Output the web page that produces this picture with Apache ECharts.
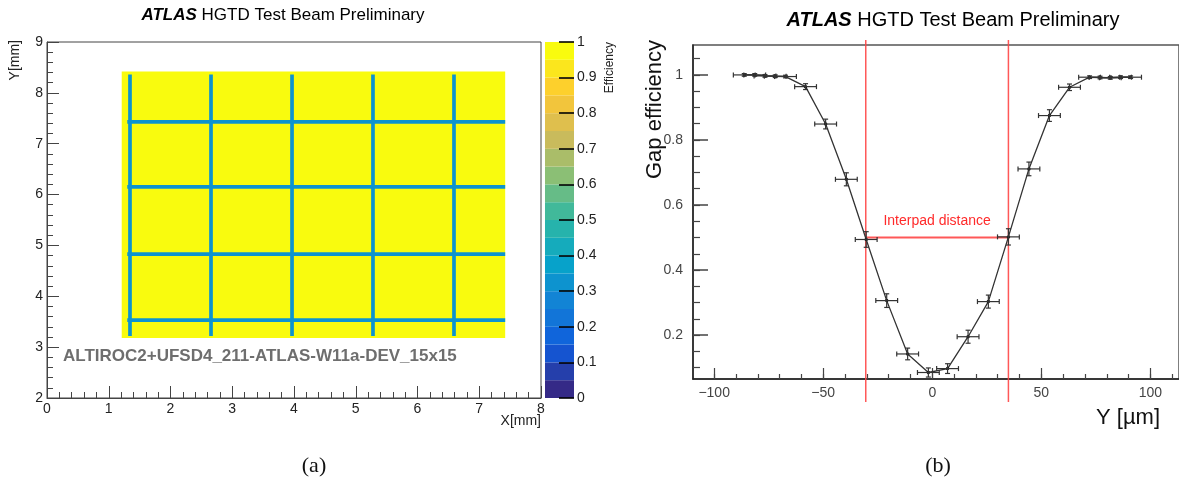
<!DOCTYPE html>
<html><head><meta charset="utf-8">
<script src="https://cdn.jsdelivr.net/npm/echarts@6/dist/echarts.min.js"></script>
<style>html,body{margin:0;padding:0;background:#fff}#c{width:1179px;height:487px}</style>
</head><body><div id="c"></div>
<script>
// ---------- Panel (a): efficiency map ----------
const sensorX = [1.21, 7.42];
const sensorY = [3.18, 8.42];
const padEfficiency = 0.99;
const gapEfficiency = 0.32;
const gapX = [1.344, 2.656, 3.968, 5.279, 6.591];
const gapXSpanY = [3.22, 8.36];
const gapY = [3.53, 4.83, 6.15, 7.43];
const gapYSpanX = [1.30, 7.42];
const colorLevels = [0,0.05,0.1,0.15,0.2,0.25,0.3,0.35,0.4,0.45,0.5,0.55,0.6,0.65,0.7,0.75,0.8,0.85,0.9,0.95,1];
const colorbarTicks = [0,0.1,0.2,0.3,0.4,0.5,0.6,0.7,0.8,0.9,1];
const mapXTicks = [0,1,2,3,4,5,6,7,8];
const mapYTicks = [2,3,4,5,6,7,8,9];

// ---------- Panel (b): gap efficiency ----------
const posY   = [-86.2,-81.4,-76.7,-72.0,-67.3,-58.1,-48.9,-39.4,-30.3,-20.9,-11.3,-1.8,7.0,16.4,25.7,34.9,44.3,53.7,62.9,72.1,76.9,81.6,86.3,90.9];
const gapEff = [1.0,1.0,0.997,0.996,0.995,0.964,0.849,0.679,0.494,0.306,0.142,0.085,0.097,0.195,0.303,0.502,0.711,0.875,0.962,0.993,0.992,0.991,0.993,0.993];
const posErr = [5,5,5,5,5,5,5,5,5,5,5,5,5,5,5,5,5,5,5,5,5,5,5,5];
const effErr = [0.004,0.004,0.004,0.004,0.004,0.009,0.015,0.02,0.024,0.021,0.018,0.014,0.015,0.02,0.02,0.025,0.021,0.018,0.01,0.004,0.004,0.004,0.004,0.004];
const interpadEdges = [-30.5, 34.9];
const interpadLevel = 0.5;
const xTicksMajor = [-100,-50,0,50,100];
const xTicksMinor = [-100,-90,-80,-70,-60,-50,-40,-30,-20,-10,0,10,20,30,40,50,60,70,80,90,100,110];
const yTicksMajor = [0.2,0.4,0.6,0.8,1.0];
const yTicksMinor = [0.1,0.15,0.2,0.25,0.3,0.35,0.4,0.45,0.5,0.55,0.6,0.65,0.7,0.75,0.8,0.85,0.9,0.95,1.0,1.05];

// ---------- palette (ROOT kBird) ----------
const birdStops=[0,.125,.25,.375,.5,.625,.75,.875,1];
const birdR=[.2082,.0592,.0780,.0232,.1802,.5301,.8186,.9956,.9764];
const birdG=[.1664,.3599,.5041,.6419,.7178,.7492,.7328,.7862,.9832];
const birdB=[.5293,.8684,.8385,.7914,.6425,.4662,.3499,.1968,.0539];
function bird(t){
  let i=0; while(i<birdStops.length-2 && t>birdStops[i+1]) i++;
  const f=(t-birdStops[i])/(birdStops[i+1]-birdStops[i]);
  const c=a=>Math.round(255*(a[i]+(a[i+1]-a[i])*f));
  return 'rgb('+c(birdR)+','+c(birdG)+','+c(birdB)+')';
}
const nBands = colorLevels.length-1;
const palette = colorLevels.slice(0,-1).map((_,i)=>bird(i/(nBands-1)));
function colorFor(v){ return palette[Math.max(0,Math.min(nBands-1,Math.floor(v*nBands)))]; }

// rectangles for the map
const gapHalfX = 0.03, gapHalfY = 0.036;
const mapRects = [[sensorX[0],sensorX[1],sensorY[0],sensorY[1],padEfficiency]]
  .concat(gapX.map(g=>[g-gapHalfX,g+gapHalfX,gapXSpanY[0],gapXSpanY[1],gapEfficiency]))
  .concat(gapY.map(g=>[gapYSpanX[0],gapYSpanX[1],g-gapHalfY,g+gapHalfY,gapEfficiency]));
const bandRects = colorLevels.slice(0,-1).map((lo,i)=>[lo,colorLevels[i+1]]);

const FONT='"Liberation Sans", Arial, Helvetica, sans-serif';
const chart = echarts.init(document.getElementById('c'), null, {renderer:'canvas'});

function fmtEff(v){ return Math.abs(v-1)<1e-9 ? '1' : (Math.abs(v)<1e-9?'0':v.toFixed(1)); }

const option = {
  animation:false,
  backgroundColor:'#fff',
  grid:[
    {left:47, top:42, width:494, height:356, show:true, borderColor:'#444', borderWidth:1, containLabel:false},
    {left:545, top:42, width:29, height:356, show:false},
    {left:693, top:45, right:-2, height:334, show:true, borderColor:'#555', borderWidth:1.5}
  ],
  xAxis:[
    {gridIndex:0, type:'value', min:0, max:8, interval:1,
     axisLine:{onZero:false,lineStyle:{color:'#444',width:1}},
     axisTick:{inside:true,length:12,lineStyle:{color:'#444'}},
     minorTick:{show:true,splitNumber:5,length:6,lineStyle:{color:'#444'}},
     splitLine:{show:false},
     axisLabel:{color:'#222',fontSize:14,fontFamily:FONT,margin:4}},
    {gridIndex:1, type:'value', min:0, max:1, show:false, axisLine:{onZero:false}},
    {gridIndex:2, type:'value', min:-109.7, max:113.1, position:'bottom',
     axisLine:{onZero:false,lineStyle:{color:'#222',width:1.5}},
     axisTick:{inside:true,length:5,customValues:xTicksMinor,lineStyle:{color:'#444',width:1.2}},
     splitLine:{show:false},
     axisLabel:{customValues:xTicksMajor,color:'#444',fontSize:14,fontFamily:FONT,margin:7,
       formatter:v=>(v<0?'\u2212'+Math.abs(v):String(v))}},
    {gridIndex:2, type:'value', min:-109.7, max:113.1, position:'bottom',
     axisLine:{show:false,onZero:false},
     axisTick:{inside:true,length:11,customValues:xTicksMajor,lineStyle:{color:'#444',width:1.2}},
     splitLine:{show:false}, axisLabel:{show:false}}
  ],
  yAxis:[
    {gridIndex:0, type:'value', min:2, max:9, interval:1,
     axisLine:{onZero:false,lineStyle:{color:'#444',width:1}},
     axisTick:{inside:true,length:12,lineStyle:{color:'#444'}},
     minorTick:{show:true,splitNumber:5,length:6,lineStyle:{color:'#444'}},
     splitLine:{show:false},
     axisLabel:{color:'#222',fontSize:14,fontFamily:FONT,margin:4}},
    {gridIndex:1, type:'value', min:0, max:1, interval:0.1, position:'right', z:10,
     axisLine:{show:false,onZero:false},
     axisTick:{inside:true,length:15,lineStyle:{color:'#000',width:1.6}},
     splitLine:{show:false},
     axisLabel:{color:'#222',fontSize:14,fontFamily:FONT,margin:3,formatter:fmtEff}},
    {gridIndex:2, type:'value', min:0.065, max:1.092, position:'left',
     axisLine:{onZero:false,lineStyle:{color:'#222',width:1.5}},
     axisTick:{inside:true,length:7,customValues:yTicksMinor,lineStyle:{color:'#444',width:1.2}},
     splitLine:{show:false},
     axisLabel:{customValues:yTicksMajor,color:'#444',fontSize:14,fontFamily:FONT,margin:10,formatter:fmtEff}},
    {gridIndex:2, type:'value', min:0.065, max:1.092, position:'left',
     axisLine:{show:false,onZero:false},
     axisTick:{inside:true,length:15,customValues:yTicksMajor,lineStyle:{color:'#444',width:1.5}},
     splitLine:{show:false}, axisLabel:{show:false}}
  ],
  series:[
    {type:'custom', name:'map', xAxisIndex:0, yAxisIndex:0, data:mapRects, silent:true,
     renderItem:(p,api)=>{
       const a=api.coord([api.value(0),api.value(3)]), b=api.coord([api.value(1),api.value(2)]);
       return {type:'rect', shape:{x:a[0],y:a[1],width:b[0]-a[0],height:b[1]-a[1]},
               style:{fill:colorFor(api.value(4))}};
     }},
    {type:'custom', name:'colorbar', xAxisIndex:1, yAxisIndex:1, data:bandRects, silent:true, z:1,
     renderItem:(p,api)=>{
       const a=api.coord([0,api.value(1)]), b=api.coord([1,api.value(0)]);
       return {type:'rect', shape:{x:a[0],y:a[1],width:b[0]-a[0],height:b[1]-a[1]},
               style:{fill:colorFor((api.value(0)+api.value(1))/2)}};
     }},
    {type:'custom', name:'interpad', xAxisIndex:2, yAxisIndex:2, clip:false, silent:true,
     data:interpadEdges.map(x=>[x]),
     renderItem:(p,api)=>{
       const cs=p.coordSys; const q=api.coord([api.value(0),interpadLevel]);
       return {type:'line', shape:{x1:q[0],y1:cs.y-5,x2:q[0],y2:cs.y+cs.height+23},
               style:{stroke:'rgba(255,70,70,0.9)',lineWidth:1.5}};
     }},
    {type:'custom', name:'interpadSpan', xAxisIndex:2, yAxisIndex:2, clip:false, silent:true,
     data:[[interpadEdges[0],interpadEdges[1],interpadLevel]],
     renderItem:(p,api)=>{
       const a=api.coord([api.value(0),api.value(2)]), b=api.coord([api.value(1),api.value(2)]);
       return {type:'group',children:[
         {type:'line',shape:{x1:a[0],y1:a[1],x2:b[0],y2:b[1]},style:{stroke:'rgba(255,70,70,0.9)',lineWidth:2}},
         {type:'text',x:(a[0]+b[0])/2,y:a[1]-16,style:{text:'Interpad distance',fill:'#ff2a2a',
           font:'14px '+FONT,align:'center',verticalAlign:'middle'}}
       ]};
     }},
    {type:'line', name:'gap', xAxisIndex:2, yAxisIndex:2, data:posY.map((x,i)=>[x,gapEff[i]]),
     symbol:'circle', symbolSize:3.5, itemStyle:{color:'#111'},
     lineStyle:{color:'#333',width:1.3}, z:3},
    {type:'custom', name:'errors', xAxisIndex:2, yAxisIndex:2, silent:true, z:4,
     data:posY.map((x,i)=>[x,gapEff[i],posErr[i],effErr[i]]),
     renderItem:(p,api)=>{
       const x=api.value(0),y=api.value(1),ex=api.value(2),ey=api.value(3);
       const l=api.coord([x-ex,y]), r=api.coord([x+ex,y]), t=api.coord([x,y+ey]), b=api.coord([x,y-ey]);
       const st={stroke:'#333',lineWidth:1.2}; const c=2.5;
       return {type:'group',children:[
         {type:'line',shape:{x1:l[0],y1:l[1],x2:r[0],y2:r[1]},style:st},
         {type:'line',shape:{x1:l[0],y1:l[1]-c,x2:l[0],y2:l[1]+c},style:st},
         {type:'line',shape:{x1:r[0],y1:r[1]-c,x2:r[0],y2:r[1]+c},style:st},
         {type:'line',shape:{x1:t[0],y1:t[1],x2:b[0],y2:b[1]},style:st},
         {type:'line',shape:{x1:t[0]-c,y1:t[1],x2:t[0]+c,y2:t[1]},style:st},
         {type:'line',shape:{x1:b[0]-c,y1:b[1],x2:b[0]+c,y2:b[1]},style:st}
       ]};
     }}
  ],
  graphic:[
    {type:'text',x:283,y:15,style:{text:'{a|ATLAS} HGTD Test Beam Preliminary',font:'17px '+FONT,fill:'#000',
      align:'center',verticalAlign:'middle',rich:{a:{font:'italic bold 17px '+FONT,fill:'#000'}}}},
    {type:'text',x:953,y:20,style:{text:'{a|ATLAS} HGTD Test Beam Preliminary',font:'20px '+FONT,fill:'#000',
      align:'center',verticalAlign:'middle',rich:{a:{font:'italic bold 20px '+FONT,fill:'#000'}}}},
    {type:'text',x:63,y:356,style:{text:'ALTIROC2+UFSD4_211-ATLAS-W11a-DEV_15x15',font:'bold 17px '+FONT,
      fill:'#6e6e6e',align:'left',verticalAlign:'middle'}},
    {type:'text',x:15,y:40,rotation:Math.PI/2,style:{text:'Y[mm]',font:'14px '+FONT,fill:'#222',align:'right',verticalAlign:'middle'}},
    {type:'text',x:541,y:421,style:{text:'X[mm]',font:'14px '+FONT,fill:'#222',align:'right',verticalAlign:'middle'}},
    {type:'text',x:610,y:42,rotation:Math.PI/2,style:{text:'Efficiency',font:'12px '+FONT,fill:'#222',align:'right',verticalAlign:'middle'}},
    {type:'text',x:655,y:40,rotation:Math.PI/2,style:{text:'Gap efficiency',font:'22px '+FONT,fill:'#111',align:'right',verticalAlign:'middle'}},
    {type:'text',x:1160,y:418,style:{text:'Y [\u00b5m]',font:'22px '+FONT,fill:'#111',align:'right',verticalAlign:'middle'}},
    {type:'text',x:314,y:466,style:{text:'(a)',font:'22px "Liberation Serif", "DejaVu Serif", serif',fill:'#111',align:'center',verticalAlign:'middle'}},
    {type:'text',x:938,y:466,style:{text:'(b)',font:'22px "Liberation Serif", "DejaVu Serif", serif',fill:'#111',align:'center',verticalAlign:'middle'}}
  ]
};
chart.setOption(option);
</script>
</body></html>
